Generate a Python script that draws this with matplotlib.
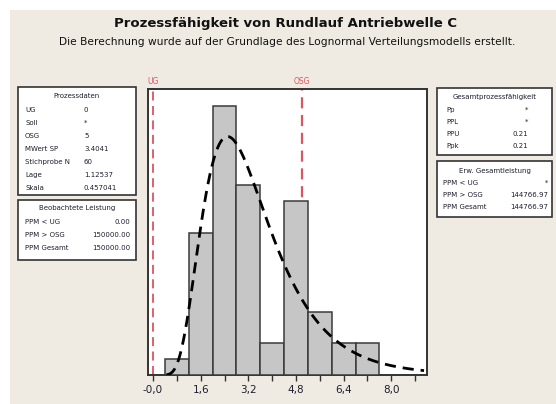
import numpy as np
import matplotlib
matplotlib.use('Agg')
import matplotlib.pyplot as plt
from matplotlib.patches import Rectangle

# Histogram data (Rundlauf Antriebwelle C, N = 60)
bin_left = [0.4, 1.2, 2.0, 2.8, 3.6, 4.4, 5.2, 6.0, 6.8]
counts = [1, 9, 17, 12, 2, 11, 4, 2, 2]
bin_width = 0.8

# Lognormal fit parameters
lage = 1.12537
skala = 0.457041
n_total = 60

# spec limits
ug = 0.0
osg = 5.0

xticks = [0.0, 1.6, 3.2, 4.8, 6.4, 8.0]
xtick_labels = ['-0,0', '1,6', '3,2', '4,8', '6,4', '8,0']

prozessdaten = [('UG', '0'), ('Soll', '*'), ('OSG', '5'), ('MWert SP', '3.4041'),
                ('Stichprobe N', '60'), ('Lage', '1.12537'), ('Skala', '0.457041')]
beobachtet = [('PPM < UG', '0.00'), ('PPM > OSG', '150000.00'), ('PPM Gesamt', '150000.00')]
gesamtfaehigkeit = [('Pp', '*'), ('PPL', '*'), ('PPU', '0.21'), ('Ppk', '0.21')]
erw_leistung = [('PPM < UG', '*'), ('PPM > OSG', '144766.97'), ('PPM Gesamt', '144766.97')]

W, H = 556, 404
bg = '#EFEBE2'
red = '#DB5560'
txtcol = '#1E1E30'

fig = plt.figure(figsize=(W / 100, H / 100), dpi=100)
fig.patch.set_facecolor('white')
fig.patches.append(Rectangle((10 / W, 0), 1, 1 - 10 / H, transform=fig.transFigure,
                             facecolor=bg, edgecolor='none', zorder=-10))


def fx(px):
    return px / W


def fy(py):
    return 1 - py / H


# titles
fig.text(fx(286), fy(24), 'Prozessfähigkeit von Rundlauf Antriebwelle C', ha='center', va='center',
         fontsize=9.5, fontweight='bold', color='#111111')
fig.text(fx(287), fy(42), 'Die Berechnung wurde auf der Grundlage des Lognormal Verteilungsmodells erstellt.',
         ha='center', va='center', fontsize=7.7, color='#111111')

# main axes
ax = fig.add_axes([fx(148), fy(375), (427 - 148) / W, (375 - 89) / H])
ax.set_facecolor('white')
ax.bar(bin_left, counts, width=bin_width, align='edge', color='#C6C6C6',
       edgecolor='#3a3a3a', linewidth=1.1, zorder=3)

xs = np.linspace(0.45, 9.1, 400)
pdf = np.exp(-(np.log(xs) - lage) ** 2 / (2 * skala ** 2)) / (xs * skala * np.sqrt(2 * np.pi))
ax.plot(xs, n_total * bin_width * pdf, color='black', linestyle=(0, (4, 2.5)), linewidth=2, zorder=4)

ax.axvline(ug, color=red, linestyle=(0, (5, 3)), linewidth=1.3, zorder=2)
ax.axvline(osg, color=red, linestyle=(0, (5, 3)), linewidth=1.6, zorder=2)

ax.set_xlim(-0.17, 9.2)
ax.set_ylim(0, 18.1)
ax.set_yticks([])
ax.set_xticks(xticks)
ax.set_xticklabels(xtick_labels, fontsize=7.5, color=txtcol)
ax.set_xticks(np.arange(0.8, 9.0, 1.6), minor=True)
ax.tick_params(axis='x', which='both', direction='out', length=4, width=1, color='#333333', pad=3)
for s in ax.spines.values():
    s.set_color('#333333')
    s.set_linewidth(1.4)

# UG / OSG labels above plot
for val, name in [(ug, 'UG'), (osg, 'OSG')]:
    xdisp = ax.transData.transform((val, 0))[0]
    fig.text(xdisp / W, fy(82), name, ha='center', va='center', fontsize=5.5, color=red)


def draw_box(x0, y0, x1, y1, title, rows, label_x, value_x, value_ha, row_y):
    fig.patches.append(Rectangle((fx(x0), fy(y1)), (x1 - x0) / W, (y1 - y0) / H,
                                 transform=fig.transFigure, facecolor='white',
                                 edgecolor='#333333', linewidth=1.2))
    fig.text(fx((x0 + x1) / 2), fy(row_y[0]), title, ha='center', va='center', fontsize=5, color=txtcol)
    for (lab, val), yy in zip(rows, row_y[1:]):
        fig.text(fx(label_x), fy(yy), lab, ha='left', va='center', fontsize=5, color=txtcol)
        fig.text(fx(value_x), fy(yy), val, ha=value_ha, va='center', fontsize=5, color=txtcol)


draw_box(18, 87, 136, 195, 'Prozessdaten', prozessdaten, 25, 84, 'left',
         [96, 110, 123, 136, 149, 162, 175, 188])
draw_box(18, 200, 136, 260, 'Beobachtete Leistung', beobachtet, 25, 130, 'right',
         [208, 222, 235, 248])
draw_box(437, 88, 552, 155, 'Gesamtprozessfähigkeit', gesamtfaehigkeit, 446, 528, 'right',
         [97, 110, 122, 134, 146])
draw_box(437, 161, 552, 217, 'Erw. Gesamtleistung', erw_leistung, 443, 548, 'right',
         [171, 183, 195, 207])

fig.savefig('out.png', dpi=100, facecolor=fig.get_facecolor())
